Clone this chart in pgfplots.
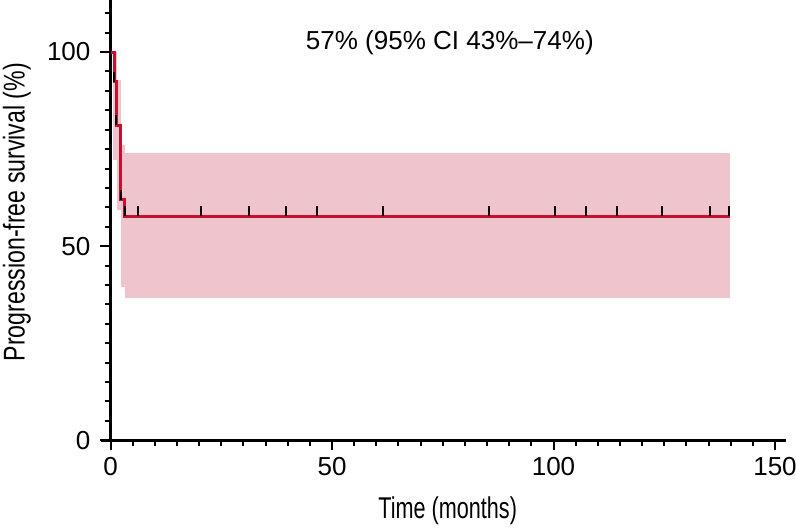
\documentclass[border=0pt]{standalone}
\usepackage{fontspec}
\setmainfont{Liberation Sans}
\newfontfamily\condx[FakeStretch=0.72]{Liberation Sans}
\newfontfamily\condy[FakeStretch=0.77]{Liberation Sans}
\usepackage{pgfplots}
\pgfplotsset{compat=1.18}
\definecolor{kmred}{RGB}{200,16,46}
\definecolor{cipink}{RGB}{240,196,204}
% censoring tick: a short stroke sitting on top of the curve
\pgfdeclareplotmark{cens}{%
  \pgfpathmoveto{\pgfqpoint{0pt}{0pt}}%
  \pgfpathlineto{\pgfqpoint{0pt}{5pt}}%
  \pgfusepathqstroke}

\begin{document}
\begin{tikzpicture}
\begin{axis}[
  scale only axis, width=332pt, height=220pt,
  xmin=0, xmax=150, ymin=0, ymax=113.4,
  axis x line=bottom, axis y line=left,
  axis line style={line width=1.6pt, -},
  x axis line style={shorten <=-5pt, shorten >=-5.5pt},
  xtick={0,50,100,150}, minor xtick={5,10,...,145},
  ytick={0,50,100}, minor ytick={5,10,...,110},
  tick align=outside,
  major tick length=5pt, minor tick length=3pt,
  every tick/.style={black, line width=1pt},
  tick label style={font=\fontsize{13}{15}\selectfont},
  yticklabel style={xshift=-1.5pt},
  /pgf/number format/assume math mode=true,
  xlabel={\condx\fontsize{15}{17}\selectfont Time (months)},
  ylabel={\condy\fontsize{15}{17}\selectfont Progression-free survival (\%)},
  xlabel style={at={(axis description cs:0.5075,-0.159)}, anchor=center},
  ylabel style={at={(axis description cs:-0.141,0.518)}, anchor=center},
  clip=false,
]
% confidence band
\addplot[fill=cipink, draw=none] coordinates {(3.27,36.6) (139.9,36.6) (139.9,74.0) (3.27,74.0)} -- cycle;
\addplot[fill=cipink, draw=none] coordinates {(2.3,39.6) (3.27,39.6) (3.27,76.0) (2.3,76.0)} -- cycle;
\addplot[fill=cipink, draw=none] coordinates {(1.4,59.3) (2.3,59.3) (2.3,92.8) (1.4,92.8)} -- cycle;
\addplot[fill=cipink, draw=none] coordinates {(0.63,72.3) (1.4,72.3) (1.4,100) (0.63,100)} -- cycle;
% KM curve
\addplot[kmred, line width=1.5pt, const plot] coordinates {
  (0,100) (0.8,92.3) (1.4,81.2) (2.3,61.9) (3.27,57.7) (139.9,57.7)};
% censored
\addplot[only marks, mark=cens, mark options={black, line width=1pt}] coordinates {
  (0.8,92.3) (1.3,81.2) (2.3,61.9) (3.3,57.7) (6.3,57.7) (20.4,57.7)
  (31.2,57.7) (39.6,57.7) (46.6,57.7) (61.4,57.7) (85.5,57.7) (100.3,57.7)
  (107.4,57.7) (114.4,57.7) (124.5,57.7) (135.4,57.7) (139.6,57.7)};
\node[font=\fontsize{13}{15}\selectfont] at (axis cs:76.6,102.3) {57\% (95\% CI 43\%--74\%)};
\coordinate (BL) at (rel axis cs:-0.1663,-0.2068);
\coordinate (TR) at (rel axis cs:1.0316,1.0);
\end{axis}
\pgfresetboundingbox
\path[use as bounding box] (BL) rectangle (TR);
\end{tikzpicture}
\end{document}
